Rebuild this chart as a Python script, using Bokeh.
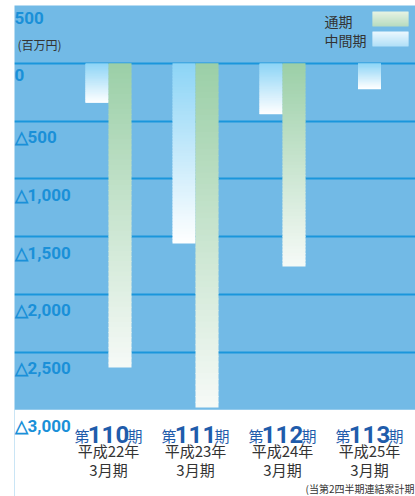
import numpy as np
from bokeh.plotting import figure
from bokeh.models import Range1d, Grid, FixedTicker, BoxAnnotation, ColumnDataSource
from bokeh.core.properties import value
from bokeh.embed import file_html
from bokeh.resources import INLINE

# ---------------- data ----------------
periods = ["110", "111", "112", "113"]
era_labels = ["平成22年", "平成23年", "平成24年", "平成25年"]
month_labels = ["3月期", "3月期", "3月期", "3月期"]
interim = [-340, -1560, -440, -220]          # 中間期 (百万円)
annual = [-2635, -2980, -1760, None]         # 通期 (百万円)
tick_values = [500, 0, -500, -1000, -1500, -2000, -2500, -3000]
tick_labels = ["500", "0", "△500", "△1,000", "△1,500", "△2,000", "△2,500", "△3,000"]
grid_values = [0, -500, -1000, -1500, -2000, -2500]
legend_labels = ["通期", "中間期"]
unit_label = "(百万円)"
footnote = "(当第2四半期連結累計期"

# ---------------- layout ----------------
W, H = 415, 496
LEFT_BORDER = 14
TOP_BORDER = 5
PPU = 0.1155                     # pixels per million yen
Y_TOP = 500
Y_BOTTOM = Y_TOP - (H - TOP_BORDER) / PPU
GROUP_PX = 87.0
X_START = -94.0 / GROUP_PX
X_END = X_START + (W - LEFT_BORDER) / GROUP_PX
BAR_W = 23.0 / GROUP_PX

def px_x(page_x):
    return X_START + (page_x - LEFT_BORDER) / GROUP_PX

def px_y(page_y):
    return Y_TOP - (page_y - TOP_BORDER) / PPU

BG = "#72bae6"
GRID = "#1a96dc"
TICK_COLOR = "#1a90d8"
NAVY = "#1f5cab"
DARK = "#333333"
ANNUAL_TOP, ANNUAL_BOT = "#9bcfa7", "#f6faf7"
INTERIM_TOP, INTERIM_BOT = "#8cd4f6", "#ffffff"
LEG_ANNUAL = ("#e7f3e3", "#b6dbbf")
LEG_INTERIM = ("#ecf8fe", "#b0dff7")

def hex2rgb(h):
    h = h.lstrip("#")
    return np.array([int(h[i:i + 2], 16) for i in (0, 2, 4)], dtype=float)

def mix(c1, c2, t):
    c = hex2rgb(c1) * (1 - t) + hex2rgb(c2) * t
    return "#%02x%02x%02x" % tuple(int(round(v)) for v in c)

p = figure(width=W, height=H, output_backend="svg", toolbar_location=None,
           x_range=Range1d(X_START, X_END), y_range=Range1d(Y_BOTTOM, Y_TOP),
           x_axis_type=None, y_axis_type=None,
           min_border_left=LEFT_BORDER, min_border_right=0,
           min_border_top=TOP_BORDER, min_border_bottom=0)
p.background_fill_color = BG
p.border_fill_color = "white"
p.outline_line_color = None

p.add_layout(BoxAnnotation(top=min(tick_values), fill_color="white", fill_alpha=1.0,
                           line_color=None, level="underlay"))
p.add_layout(Grid(dimension=1, ticker=FixedTicker(ticks=grid_values),
                  grid_line_color=GRID, grid_line_width=2))

# ---------------- gradient bars ----------------
N = 60
OVERLAP = 1.0 / PPU
cols = dict(left=[], right=[], top=[], bottom=[], color=[])

def add_gradient_bar(xc, val, ctop, cbot):
    edges = np.linspace(0, val, N + 1)
    for k in range(N):
        t = (k + 0.5) / N
        cols["left"].append(xc - BAR_W / 2)
        cols["right"].append(xc + BAR_W / 2)
        cols["top"].append(edges[k])
        cols["bottom"].append(edges[k + 1] - (OVERLAP if k < N - 1 else 0))
        cols["color"].append(mix(ctop, cbot, t))

for i, (iv, av) in enumerate(zip(interim, annual)):
    if av is None:
        add_gradient_bar(i, iv, INTERIM_TOP, INTERIM_BOT)
    else:
        add_gradient_bar(i - BAR_W / 2, iv, INTERIM_TOP, INTERIM_BOT)
        add_gradient_bar(i + BAR_W / 2, av, ANNUAL_TOP, ANNUAL_BOT)

p.quad(left="left", right="right", top="top", bottom="bottom", fill_color="color",
       line_color=None, source=ColumnDataSource(cols))

# ---------------- y tick labels (inside plot) ----------------
p.text(x=[X_START] * len(tick_values), y=tick_values, text=tick_labels,
       text_align="left", text_baseline="top", x_offset=0, y_offset=6,
       text_font=value("Roboto"), text_font_style="bold",
       text_font_size="17px", text_color=TICK_COLOR)

p.text(x=[px_x(17)], y=[px_y(44)], text=[unit_label], text_align="left",
       text_baseline="middle", text_font=value("Noto Sans CJK JP"),
       text_font_size="12px", text_color=DARK)

# ---------------- category labels ----------------
xs = list(range(len(periods)))
p.text(x=xs, y=[px_y(434)] * len(xs), text=periods, text_align="center",
       text_baseline="alphabetic", text_font=value("Roboto"), text_font_style="bold",
       text_font_size="24px", text_color=NAVY)
p.text(x=xs, y=[px_y(434)] * len(xs), text=["第"] * len(xs), text_align="right",
       text_baseline="alphabetic", x_offset=-19, y_offset=1,
       text_font=value("Noto Sans CJK JP"), text_font_size="15px", text_color=NAVY)
p.text(x=xs, y=[px_y(434)] * len(xs), text=["期"] * len(xs), text_align="left",
       text_baseline="alphabetic", x_offset=19, y_offset=1,
       text_font=value("Noto Sans CJK JP"), text_font_size="15px", text_color=NAVY)
p.text(x=xs, y=[px_y(450)] * len(xs), text=era_labels, text_align="center",
       text_baseline="middle", text_font=value("Noto Sans CJK JP"),
       text_font_size="15px", text_color=DARK)
p.text(x=xs, y=[px_y(468.5)] * len(xs), text=month_labels, text_align="center",
       text_baseline="middle", text_font=value("Noto Sans CJK JP"),
       text_font_size="15px", text_color=DARK)

p.text(x=[px_x(305)], y=[px_y(488)], text=[footnote], text_align="left",
       text_baseline="middle", text_font=value("Noto Sans CJK JP"),
       text_font_size="10px", text_color=DARK)

# ---------------- legend ----------------
leg = dict(left=[], right=[], top=[], bottom=[], color=[])
for (ytop, (c1, c2)) in zip([11, 31], [LEG_ANNUAL, LEG_INTERIM]):
    M = 15
    for k in range(M):
        leg["left"].append(px_x(372))
        leg["right"].append(px_x(408))
        leg["top"].append(px_y(ytop + k))
        leg["bottom"].append(px_y(ytop + k + (1.6 if k < M - 1 else 1.0)))
        leg["color"].append(mix(c1, c2, (k + 0.5) / M))
p.quad(left="left", right="right", top="top", bottom="bottom", fill_color="color",
       line_color=None, source=ColumnDataSource(leg))
p.text(x=[px_x(324)] * 2, y=[px_y(20), px_y(39.5)], text=legend_labels,
       text_align="left", text_baseline="middle", text_font=value("Noto Sans CJK JP"),
       text_font_size="14px", text_color=DARK)

open("out.html", "w").write(file_html(p, INLINE))
